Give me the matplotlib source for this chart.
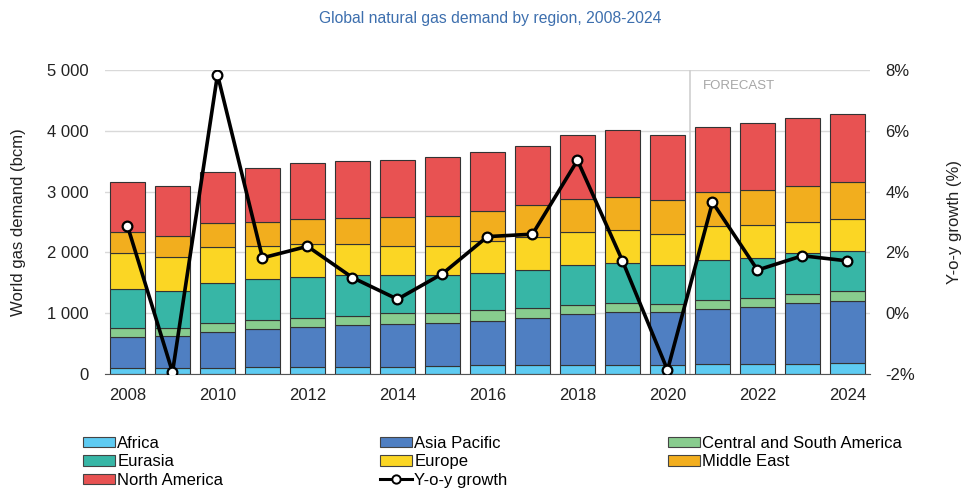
import matplotlib
matplotlib.use("Agg")
import matplotlib.pyplot as plt
from matplotlib.patches import Patch
from matplotlib.lines import Line2D
import numpy as np

plt.rcParams['font.family'] = ['Liberation Sans', 'DejaVu Sans']

years = list(range(2008, 2025))
africa = [104, 104, 100, 110, 120, 115, 121, 132, 143, 143, 153, 153, 148, 159, 170, 170, 176]
asia_pacific = [505, 526, 586, 630, 658, 691, 696, 712, 734, 773, 829, 862, 877, 915, 937, 998, 1030]
central_south_america = [142, 132, 148, 148, 148, 148, 181, 165, 170, 164, 158, 153, 126, 143, 148, 143, 159]
eurasia = [647, 603, 657, 669, 664, 674, 635, 614, 609, 631, 658, 652, 637, 658, 658, 674, 663]
europe = [587, 559, 603, 553, 548, 505, 477, 487, 532, 547, 543, 548, 520, 564, 543, 520, 526]
middle_east = [345, 351, 384, 395, 411, 438, 467, 494, 488, 522, 532, 538, 549, 549, 570, 592, 609]
north_america = [820, 817, 850, 883, 921, 932, 943, 960, 975, 975, 1063, 1107, 1079, 1080, 1108, 1108, 1113]
yoy_growth = [2.87, -1.94, 7.85, 1.82, 2.2, 1.17, 0.46, 1.3, 2.52, 2.6, 5.03, 1.72, -1.87, 3.65, 1.42, 1.89, 1.72]

series = [
    ("Africa", africa, "#5ecbf2"),
    ("Asia Pacific", asia_pacific, "#4f7fc2"),
    ("Central and South America", central_south_america, "#88cc8e"),
    ("Eurasia", eurasia, "#37b6a6"),
    ("Europe", europe, "#fbd624"),
    ("Middle East", middle_east, "#f2ae1e"),
    ("North America", north_america, "#e85252"),
]

fig = plt.figure(figsize=(9.62, 4.88), dpi=100)
ax_left, ax_right, ax_bot, ax_top = 105, 870, 374, 70
ax = fig.add_axes([ax_left/962, 1-ax_bot/488, (ax_right-ax_left)/962, (ax_bot-ax_top)/488])
x = np.arange(len(years))
bottom = np.zeros(len(years))
handles = {}
for name, vals, col in series:
    v = np.array(vals, dtype=float)
    ax.bar(x, v, width=0.76, bottom=bottom, color=col, edgecolor="#333333", linewidth=0.8, zorder=2)
    bottom += v
    handles[name] = Patch(facecolor=col, edgecolor="#444444", linewidth=0.8)

ax.set_xlim(-0.5, len(years) - 0.5)
ax.set_ylim(0, 5000)
ax.set_yticks(range(0, 5001, 1000))
ax.set_yticklabels(["0", "1 000", "2 000", "3 000", "4 000", "5 000"])
ax.set_xticks(x[::2])
ax.set_xticklabels([str(y) for y in years[::2]])
ax.grid(axis="y", color="#d9d9d9", linewidth=1)
ax.set_axisbelow(True)
for s in ["top", "left", "right"]:
    ax.spines[s].set_visible(False)
ax.spines["bottom"].set_color("#555555")
ax.tick_params(axis="both", length=0, labelsize=12, colors="#222222")
ax.tick_params(axis="y", pad=12)
ax.tick_params(axis="x", pad=10)
ax.set_ylabel("World gas demand (bcm)", fontsize=12, color="#222222")
ax.yaxis.set_label_coords((26-ax_left)/(ax_right-ax_left), 0.5)

# forecast marker
ax.axvline(12.5, color="#cfcfcf", linewidth=1.2, zorder=1)
ax.text(12.78, 4830, "FORECAST", fontsize=9.5, color="#a6a6a6", va="top", ha="left")

ax2 = ax.twinx()
ax2.plot(x, yoy_growth, color="black", linewidth=2.6, marker="o", markersize=7,
         markerfacecolor="white", markeredgecolor="black", markeredgewidth=1.6, zorder=5)
ax2.set_ylim(-2, 8)
ax2.set_yticks(range(-2, 9, 2))
ax2.set_yticklabels([f"{v}%" for v in range(-2, 9, 2)])
for s in ["top", "left", "right", "bottom"]:
    ax2.spines[s].set_visible(False)
ax2.tick_params(axis="y", length=0, labelsize=12, colors="#222222", pad=11)
ax2.set_ylabel("Y-o-y growth (%)", fontsize=12, color="#222222")
ax2.yaxis.set_label_coords((947-ax_left)/(ax_right-ax_left), 0.5)

fig.text(490/962, 1-18/488, "Global natural gas demand by region, 2008-2024",
         ha="center", va="center", fontsize=11.3, color="#3d6fae")

yoy_handle = Line2D([], [], color="black", linewidth=2.2, marker="o", markersize=6,
                    markerfacecolor="white", markeredgecolor="black", markeredgewidth=1.4)
handles["Y-o-y growth"] = yoy_handle

cols = [
    (83, ["Africa", "Eurasia", "North America"]),
    (380, ["Asia Pacific", "Europe", "Y-o-y growth"]),
    (668, ["Central and South America", "Middle East"]),
]
for xpos, names in cols:
    fig.legend([handles[n] for n in names], names, loc="upper left",
               bbox_to_anchor=(xpos/962, 1-436/488), frameon=False, fontsize=12,
               borderpad=0, borderaxespad=0, handlelength=1.9, handleheight=0.6,
               handletextpad=0.15, labelspacing=0.2)

fig.savefig("out.png", dpi=100)
